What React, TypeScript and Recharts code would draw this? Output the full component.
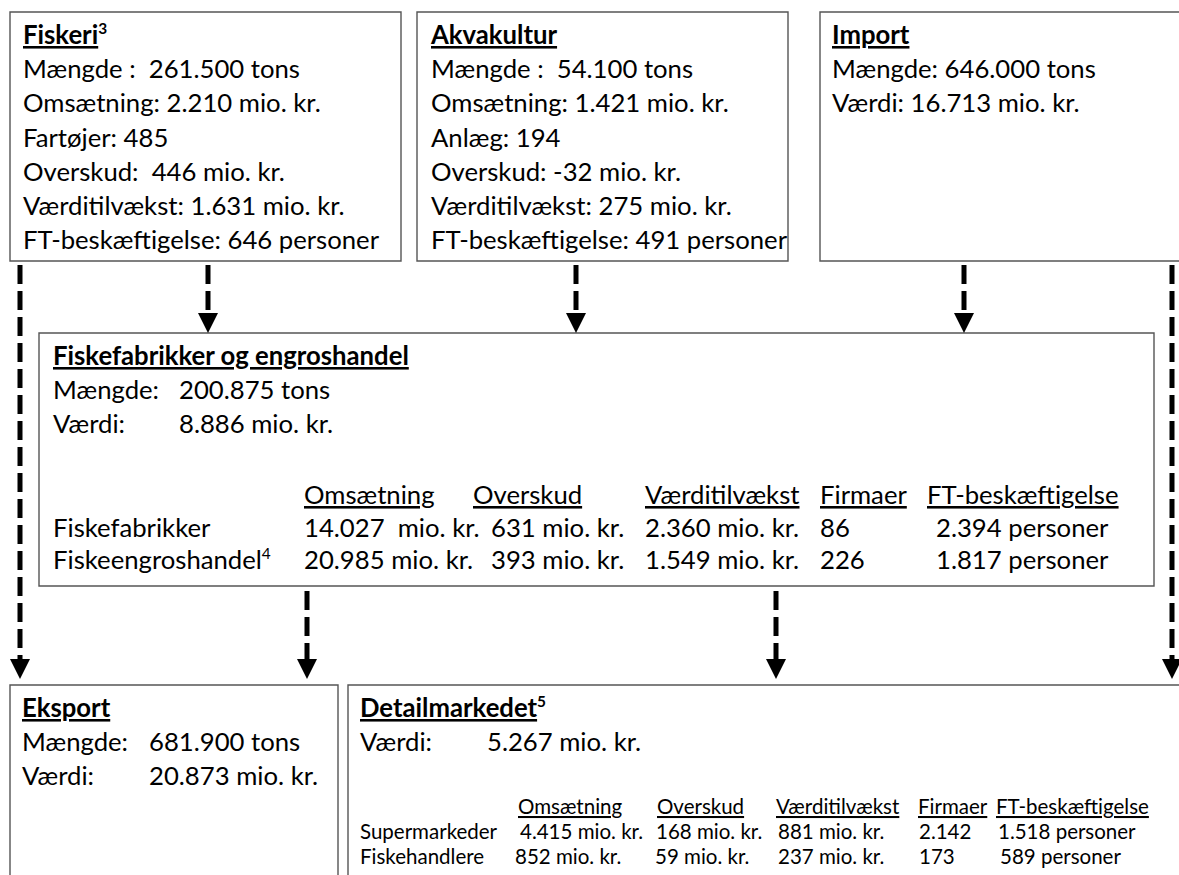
import React from 'react'
import {
  ComposedChart, XAxis, YAxis, Scatter, ReferenceArea, ReferenceLine,
} from 'recharts'

const WIDTH = 1179
const HEIGHT = 875
const FONT = 'Lato, "Open Sans", sans-serif'
const BIG = 25.7
const SMALL = 20.5
const LINE = 34.2

// --- content -------------------------------------------------------------
const fiskeriLines = [
  'Mængde :  261.500 tons',
  'Omsætning: 2.210 mio. kr.',
  'Fartøjer: 485',
  'Overskud:  446 mio. kr.',
  'Værditilvækst: 1.631 mio. kr.',
  'FT-beskæftigelse: 646 personer',
]
const akvaLines = [
  'Mængde :  54.100 tons',
  'Omsætning: 1.421 mio. kr.',
  'Anlæg: 194',
  'Overskud: -32 mio. kr.',
  'Værditilvækst: 275 mio. kr.',
  'FT-beskæftigelse: 491 personer',
]
const importLines = ['Mængde: 646.000 tons', 'Værdi: 16.713 mio. kr.']

const fabrikLabels = ['Mængde:', 'Værdi:']
const fabrikValues = ['200.875 tons', '8.886 mio. kr.']
const tableCols = ['Omsætning', 'Overskud', 'Værditilvækst', 'Firmaer', 'FT-beskæftigelse']
const fabrikRows = ['Fiskefabrikker', 'Fiskeengroshandel']
const fabrikCells = [
  ['14.027  mio. kr.', '631 mio. kr.', '2.360 mio. kr.', '86', '2.394 personer'],
  ['20.985 mio. kr.', '393 mio. kr.', '1.549 mio. kr.', '226', '1.817 personer'],
]

const eksportLabels = ['Mængde:', 'Værdi:']
const eksportValues = ['681.900 tons', '20.873 mio. kr.']

const detailLabels = ['Værdi:']
const detailValues = ['5.267 mio. kr.']
const detailRows = ['Supermarkeder', 'Fiskehandlere']
const detailCells = [
  ['4.415 mio. kr.', '168 mio. kr.', '881 mio. kr.', '2.142', '1.518 personer'],
  ['852 mio. kr.', '59 mio. kr.', '237 mio. kr.', '173', '589 personer'],
]

// --- layout --------------------------------------------------------------
const boxes = [
  { x1: 10, x2: 401, y1: 12, y2: 261 },
  { x1: 417, x2: 788, y1: 12, y2: 261 },
  { x1: 820, x2: 1200, y1: 12, y2: 261 },
  { x1: 39, x2: 1154, y1: 333, y2: 586 },
  { x1: 10, x2: 338, y1: 685, y2: 900 },
  { x1: 348, x2: 1200, y1: 685, y2: 900 },
]
const flows = [
  { x: 20, y1: 265, y2: 662 },
  { x: 1172, y1: 265, y2: 662 },
  { x: 208, y1: 265, y2: 315 },
  { x: 576, y1: 265, y2: 315 },
  { x: 964, y1: 265, y2: 315 },
  { x: 307, y1: 591, y2: 662 },
  { x: 776, y1: 591, y2: 662 },
]
const arrowTips = [
  { x: 20, y: 679 }, { x: 1172, y: 679 },
  { x: 208, y: 333 }, { x: 576, y: 333 }, { x: 964, y: 333 },
  { x: 307, y: 679 }, { x: 776, y: 679 },
]
const TOP_Y = 44
const MID_Y = 365
const BOT_Y = 717
const fabrikColX = [304, 473, 645, 820, 927]
const fabrikCellX = [304, 491, 645, 820, 936]
const detailColX = [518, 657, 776, 918, 996]
const detailCellX = [[520, 656, 778, 919, 998], [515, 655, 778, 919, 1000]]

type Lbl = {
  x: number; y: number; text: string; size?: number
  bold?: boolean; underline?: boolean; sup?: string
}

const labels: Lbl[] = [
  { x: 23, y: TOP_Y, text: 'Fiskeri', bold: true, underline: true, sup: '3' },
  ...fiskeriLines.map((t, i) => ({ x: 23, y: TOP_Y + (i + 1) * LINE, text: t })),
  { x: 431, y: TOP_Y, text: 'Akvakultur', bold: true, underline: true },
  ...akvaLines.map((t, i) => ({ x: 431, y: TOP_Y + (i + 1) * LINE, text: t })),
  { x: 832, y: TOP_Y, text: 'Import', bold: true, underline: true },
  ...importLines.map((t, i) => ({ x: 832, y: TOP_Y + (i + 1) * LINE, text: t })),

  { x: 53, y: MID_Y, text: 'Fiskefabrikker og engroshandel', bold: true, underline: true },
  ...fabrikLabels.map((t, i) => ({ x: 53, y: MID_Y + (i + 1) * LINE, text: t })),
  ...fabrikValues.map((t, i) => ({ x: 179, y: MID_Y + (i + 1) * LINE, text: t })),
  ...tableCols.map((t, i) => ({ x: fabrikColX[i], y: 504, text: t, underline: true })),
  { x: 53, y: 537, text: fabrikRows[0] },
  { x: 53, y: 569, text: fabrikRows[1], sup: '4' },
  ...fabrikCells.flatMap((row, r) =>
    row.map((t, i) => ({ x: fabrikCellX[i], y: 537 + r * 32, text: t }))),

  { x: 22, y: BOT_Y, text: 'Eksport', bold: true, underline: true },
  ...eksportLabels.map((t, i) => ({ x: 22, y: BOT_Y + (i + 1) * LINE, text: t })),
  ...eksportValues.map((t, i) => ({ x: 149, y: BOT_Y + (i + 1) * LINE, text: t })),

  { x: 360, y: BOT_Y, text: 'Detailmarkedet', bold: true, underline: true, sup: '5' },
  ...detailLabels.map((t) => ({ x: 360, y: BOT_Y + LINE, text: t })),
  ...detailValues.map((t) => ({ x: 487, y: BOT_Y + LINE, text: t })),
  ...tableCols.map((t, i) => ({ x: detailColX[i], y: 814, text: t, underline: true, size: SMALL })),
  ...detailRows.map((t, r) => ({ x: 360, y: 839 + r * 25, text: t, size: SMALL })),
  ...detailCells.flatMap((row, r) =>
    row.map((t, i) => ({ x: detailCellX[r][i], y: 839 + r * 25, text: t, size: SMALL }))),
]

const TextShape = (props: any) => {
  const { cx, cy, payload } = props
  const size = payload.size ?? BIG
  const weight = payload.bold ? 700 : 400
  return (
    <text
      x={cx}
      y={cy}
      fontFamily={FONT}
      fontSize={size}
      fill="#000"
      style={{ whiteSpace: 'pre' }}
    >
      <tspan fontWeight={weight} textDecoration={payload.underline ? 'underline' : undefined}>
        {payload.text}
      </tspan>
      {payload.sup && (
        <tspan fontSize={size * 0.6} dy={-size * 0.4} fontWeight={weight}>
          {payload.sup}
        </tspan>
      )}
    </text>
  )
}

const ArrowHead = (props: any) => {
  const { cx, cy } = props
  return (
    <polygon
      points={`${cx - 10},${cy - 20} ${cx + 10},${cy - 20} ${cx},${cy}`}
      fill="#000"
    />
  )
}

export default function App() {
  return (
    <div style={{ position: 'absolute', left: 0, top: 0, background: '#fff' }}>
      <ComposedChart
        width={WIDTH}
        height={HEIGHT}
        margin={{ top: 0, right: 0, bottom: 0, left: 0 }}
      >
        <XAxis type="number" dataKey="x" domain={[0, WIDTH]} hide allowDataOverflow />
        <YAxis type="number" dataKey="y" domain={[0, HEIGHT]} reversed hide allowDataOverflow />
        {boxes.map((b, i) => (
          <ReferenceArea
            key={`box-${i}`}
            x1={b.x1}
            x2={b.x2}
            y1={b.y1}
            y2={b.y2}
            ifOverflow="hidden"
            fill="none"
            stroke="#555"
            strokeWidth={1.4}
          />
        ))}
        {flows.map((f, i) => (
          <ReferenceLine
            key={`flow-${i}`}
            segment={[{ x: f.x, y: f.y1 }, { x: f.x, y: f.y2 }]}
            stroke="#000"
            strokeWidth={5}
            strokeDasharray="19 7"
          />
        ))}
        <Scatter data={arrowTips} shape={ArrowHead} isAnimationActive={false} />
        <Scatter data={labels} shape={TextShape} isAnimationActive={false} />
      </ComposedChart>
    </div>
  )
}
